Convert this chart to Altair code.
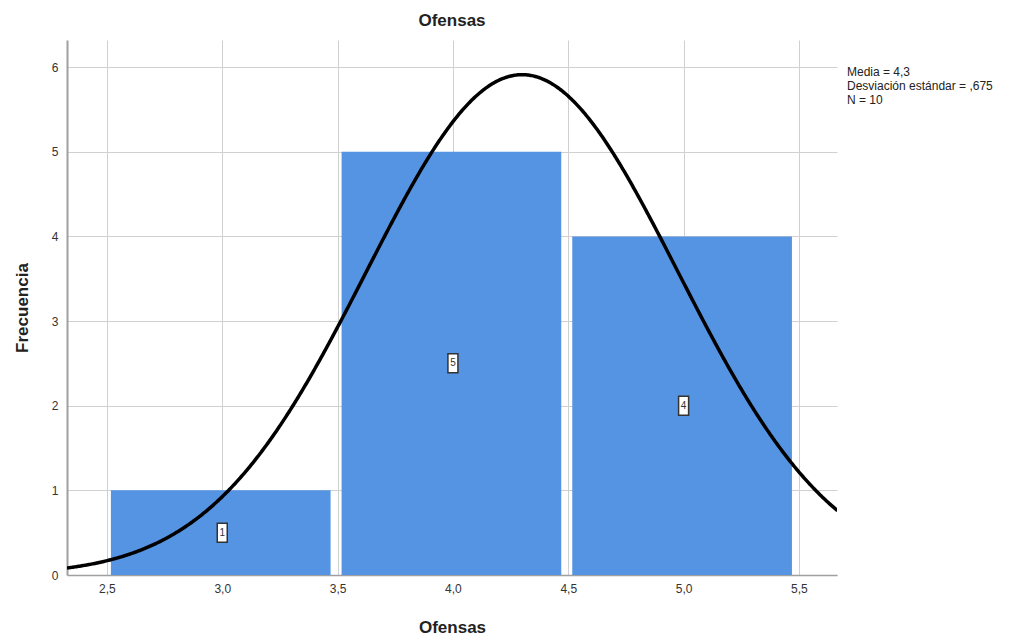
import altair as alt
import pandas as pd

# Histogram data (bin edges and counts)
bin_start = [2.5, 3.5, 4.5]
bin_end = [3.5, 4.5, 5.5]
counts = [1, 5, 4]

# Normal-curve parameters shown in the legend text
MEAN = 4.3
SD = 0.675
N = 10
BIN_W = 1.0

x_ticks = [2.5, 3.0, 3.5, 4.0, 4.5, 5.0, 5.5]
y_ticks = [0, 1, 2, 3, 4, 5, 6]
stats_lines = ["Media = 4,3", "Desviación estándar = ,675", "N = 10"]

X_DOM = [2.327, 5.665]
Y_DOM = [0, 6.32]
FONT = "Liberation Sans"

bars_df = pd.DataFrame({"start": bin_start, "end": bin_end, "count": counts})
bars_df["mid"] = (bars_df["start"] + bars_df["end"]) / 2
bars_df["half"] = bars_df["count"] / 2
bars_df["label"] = bars_df["count"].astype(str)

xscale = alt.Scale(domain=X_DOM, nice=False, zero=False)
yscale = alt.Scale(domain=Y_DOM, nice=False)

xaxis = alt.Axis(values=x_ticks, labelExpr="replace(format(datum.value, '.1f'), '.', ',')",
                 title="Ofensas", grid=True, gridColor="#d0d0d0", ticks=False,
                 domainColor="#a0a0a0", domainWidth=1.5, labelFont=FONT, labelFontSize=12,
                 labelColor="#333333", labelPadding=8, titleFont=FONT, titleFontSize=17,
                 titleFontWeight="bold", titleColor="#222222", titlePadding=25)
yaxis = alt.Axis(values=y_ticks, format="d", title="Frecuencia", grid=True,
                 gridColor="#d0d0d0", ticks=False, domainColor="#a0a0a0", domainWidth=2,
                 labelFont=FONT, labelFontSize=12, labelColor="#333333", labelPadding=9,
                 titleFont=FONT, titleFontSize=17, titleFontWeight="bold",
                 titleColor="#222222", titlePadding=20)

base = alt.Chart(bars_df)

bars = base.mark_bar(color="#5594E3", xOffset=4, x2Offset=-7).encode(
    x=alt.X("start:Q", scale=xscale, axis=xaxis),
    x2="end:Q",
    y=alt.Y("count:Q", scale=yscale, axis=yaxis),
    y2=alt.datum(0),
)

boxes = base.mark_rect(width=10, height=19, fill="white", stroke="#333333",
                       strokeWidth=1.5).encode(
    x=alt.X("mid:Q", scale=xscale),
    y=alt.Y("half:Q", scale=yscale),
)

labels = base.mark_text(font=FONT, fontSize=10, color="#333333").encode(
    x=alt.X("mid:Q", scale=xscale),
    y=alt.Y("half:Q", scale=yscale),
    text="label:N",
)

curve = alt.Chart(alt.sequence(X_DOM[0], X_DOM[1] + 0.005, 0.005, as_="xv")).transform_calculate(
    yv=f"{N}*{BIN_W}/({SD}*sqrt(2*PI))*exp(-0.5*pow((datum.xv-{MEAN})/{SD},2))"
).mark_line(color="black", strokeWidth=3.5, clip=True).encode(
    x=alt.X("xv:Q", scale=xscale),
    y=alt.Y("yv:Q", scale=yscale),
)

stats_df = pd.DataFrame({"t": ["\n".join(stats_lines)]})
stats = alt.Chart(stats_df).mark_text(font=FONT, fontSize=12, color="#222222",
                                      align="left", baseline="top", lineBreak="\n",
                                      lineHeight=14).encode(
    x=alt.value(780),
    y=alt.value(27),
    text="t:N",
)

chart = alt.layer(bars, curve, boxes, labels, stats).properties(
    width=770, height=535,
    title=alt.TitleParams("Ofensas", font=FONT, fontSize=17, fontWeight="bold",
                          color="#222222", anchor="middle", offset=10),
    autosize=alt.AutoSizeParams(type="none"),
    padding={"left": 59, "top": 32, "right": 180, "bottom": 60},
).configure_view(stroke=None)

chart.save("out.html", embed_options={"renderer": "svg", "actions": False})
